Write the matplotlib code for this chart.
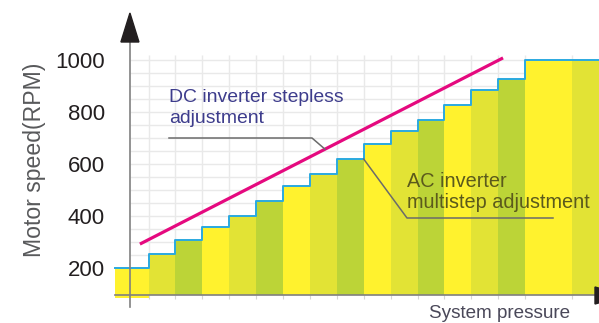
import numpy as np
import matplotlib
matplotlib.use("Agg")
import matplotlib.pyplot as plt
from matplotlib import font_manager

# ---- data ----
# x is measured in "column" units (one colour band = 1), y in RPM
col_edges = [-1.25, 0, 1, 2, 3, 4, 5, 6, 7, 8, 9, 10, 11, 12, 13, 14, 15.74, 16.75]
col_speed = [200, 255, 308, 358, 400, 458, 515, 562, 619, 677, 727, 769, 827, 885, 927, 1000, 1000]
dc_x = [-0.32, 13.18]
dc_speed = [292, 1008]
yticks = [200, 400, 600, 800, 1000]
band_colors = ["#fff22e", "#e2e335", "#bcd437"]

BASE = 96          # bottom of the bars / x axis line
AXIS_X = -0.69     # where the vertical axis sits

# pixel <-> data mapping used only for placing labels
X0, XS = 148.5, 26.9
Y200, YS = 268.0, 3.846


def px(x, y):
    return (x - X0) / XS, 200 + (Y200 - y) * YS


def has_font(name):
    try:
        font_manager.findfont(name, fallback_to_default=False)
        return True
    except ValueError:
        return False


narrow = has_font("Liberation Sans Narrow")
NF = "Liberation Sans Narrow" if narrow else "Liberation Sans"
k = 1.0 if narrow else 0.82

fig = plt.figure(figsize=(5.99, 3.23), dpi=100)
ax = fig.add_axes([0, 0, 1, 1])
ax.set_xlim(px(0, 0)[0], px(599, 0)[0])
ax.set_ylim(px(0, 323)[1], px(0, 0)[1])

# light grid behind everything
top = 1020
ax.hlines(np.arange(100, 1001, 50), AXIS_X, col_edges[-1], color="#e9e9e9", lw=1, zorder=0.5)
ax.vlines(col_edges[1:-1], BASE, top, color="#e9e9e9", lw=1, zorder=0.5)

# coloured steps
lefts = np.array(col_edges[:-1])
widths = np.diff(col_edges)
bottoms = [85] + [BASE] * (len(col_speed) - 1)
colors = [band_colors[i % 3] for i in range(len(col_speed))]
ax.bar(lefts, np.array(col_speed) - np.array(bottoms), width=widths, bottom=bottoms,
       align="edge", color=colors, edgecolor="none", zorder=1)
ax.step(col_edges, col_speed + [col_speed[-1]], where="post", color="#2aa9e0", lw=1.4, zorder=2)

# DC stepless line
ax.plot(dc_x, dc_speed, color="#e5097f", lw=2.3, solid_capstyle="butt", zorder=3)

# axes
for s in ["top", "right"]:
    ax.spines[s].set_visible(False)
ax.spines["left"].set_position(("data", AXIS_X))
ax.spines["left"].set_bounds(px(0, 307)[1], px(0, 40)[1])
ax.spines["bottom"].set_position(("data", BASE))
ax.spines["bottom"].set_bounds(col_edges[0], col_edges[-1])
for s in ["left", "bottom"]:
    ax.spines[s].set_color("#808080")
    ax.spines[s].set_linewidth(1.2)
    ax.spines[s].set_zorder(2.5)
ax.set_yticks(yticks)
ax.set_yticklabels([str(v) for v in yticks], fontfamily=NF, fontsize=19.5 * k, color="#231f20")
ax.tick_params(axis="y", length=0, pad=18)
ax.set_xticks(col_edges[1:-1])
ax.tick_params(axis="x", length=3, color="#d5d5d5", labelbottom=False)

# arrow heads
tip = px(130, 13)
ax.fill([AXIS_X - 0.335, AXIS_X, AXIS_X + 0.335], [px(0, 42)[1], tip[1], px(0, 42)[1]],
        color="#231f20", zorder=4)
ax.fill([px(595, 0)[0], px(625, 0)[0], px(595, 0)[0]],
        [px(0, 287)[1], px(0, 295.5)[1], px(0, 304)[1]], color="#231f20", zorder=4)

# DC label + leader
dc_txt = "#3d3c8c"
ax.text(*px(169, 102), "DC inverter stepless", fontfamily=NF, fontsize=17 * k,
        color=dc_txt, va="baseline", ha="left", zorder=5)
ax.text(*px(169, 123), "adjustment", fontfamily=NF, fontsize=17 * k,
        color=dc_txt, va="baseline", ha="left", zorder=5)
hit_x = px(325, 0)[0]
hit_y = np.interp(hit_x, dc_x, dc_speed)
p1, p2 = px(169, 138), px(312, 138)
ax.plot([p1[0], p2[0], hit_x], [p1[1], p2[1], hit_y], color="#6b6b6b", lw=1.1, zorder=4)

# AC label + leader
ac_txt = "#5b5a1c"
ax.text(*px(407, 187), "AC inverter", fontfamily=NF, fontsize=17.5 * k,
        color=ac_txt, va="baseline", ha="left", zorder=5)
ax.text(*px(407, 208), "multistep adjustment", fontfamily=NF, fontsize=17.5 * k,
        color=ac_txt, va="baseline", ha="left", zorder=5)
q1, q2 = px(407, 218), px(553, 218)
ax.plot([col_edges[9], q1[0], q2[0]], [col_speed[8], q1[1], q2[1]], color="#6b6b6b", lw=1.1, zorder=4)

# axis titles
ax.text(*px(429, 318), "System pressure", fontfamily=NF, fontsize=16.6 * k,
        color="#4a4859", va="baseline", ha="left", zorder=5)
ax.text(*px(35, 160), "Motor speed(RPM)", fontfamily="Liberation Sans", fontsize=16.6,
        color="#58595b", rotation=90, va="center", ha="center", zorder=5)

fig.savefig("out.png", dpi=100)
